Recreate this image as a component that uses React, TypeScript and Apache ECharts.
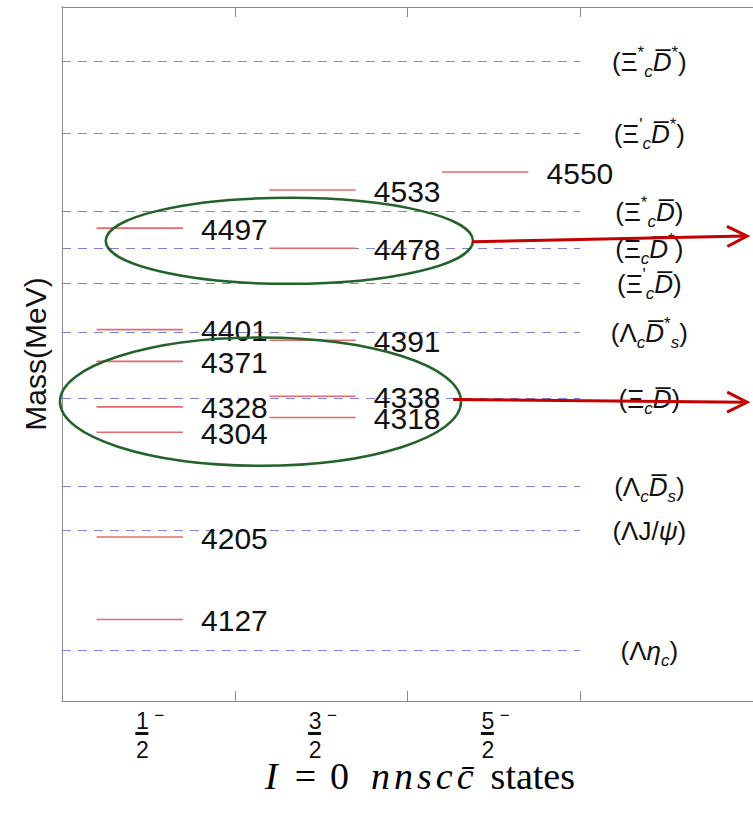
import React, { useEffect, useRef } from 'react';
import * as echarts from 'echarts';

// ---- data ----
const spinIndex = [0, 1, 2];
const spinNumerators = ['1', '3', '5'];
const spinDenominators = ['2', '2', '2'];

const statesJ12 = [4127, 4205, 4304, 4328, 4371, 4401, 4497];
const statesJ32 = [4318, 4338, 4391, 4478, 4533];
const statesJ52 = [4550];

const thresholdMasses = [4655, 4587, 4513, 4478, 4445, 4399, 4336, 4253, 4212, 4098];
const thresholdLabels = [
  '{n|(Ξ}{sup|*}{sub|c}{i|D\u0305}{sup|*}{n|)}',
  "{n|(Ξ}{sup|'}{sub|c}{i|D\u0305}{sup|*}{n|)}",
  '{n|(Ξ}{sup|*}{sub|c}{i|D\u0305}{n|)}',
  '{n|(Ξ}{sub|c}{i|D\u0305}{sup|*}{n|)}',
  "{n|(Ξ}{sup|'}{sub|c}{i|D\u0305}{n|)}",
  '{n|(Λ}{sub|c}{i|D\u0305}{sup|*}{sub|s}{n|)}',
  '{n|(Ξ}{sub|c}{i|D\u0305}{n|)}',
  '{n|(Λ}{sub|c}{i|D\u0305}{sub|s}{n|)}',
  '{n|(ΛJ/}{i|ψ}{n|)}',
  '{n|(Λ}{i|η}{sub|c}{n|)}',
];

const xAxisTitle = '{I|I}{eq|=}{z|0}{m|n}{m|n}{m|s}{m|c}{mc|c\u0304}{st|states}';

// annotations (data units: x, mass)
const ellipses = [
  [1.316, 4485, 1.063, 40.7],
  [1.149, 4333, 1.161, 60.6],
];
const arrows = [
  [2.374, 4484, 3.966, 4489.5],
  [2.264, 4335, 3.966, 4332.4],
];

const Y_MIN = 4050;
const Y_MAX = 4706;
const X_MIN = 0;
const X_MAX = 4;

const SANS = '"Liberation Sans", Arial, sans-serif';
const SERIF = '"Liberation Serif", "Times New Roman", serif';

const thresholdRich = {
  n: { fontSize: 26, fontFamily: SANS, color: '#111', lineHeight: 36, verticalAlign: 'middle' },
  i: { fontSize: 26, fontFamily: SANS, fontStyle: 'italic', color: '#111', lineHeight: 36, verticalAlign: 'middle' },
  sub: { fontSize: 17, fontFamily: SANS, fontStyle: 'italic', color: '#111', lineHeight: 18, verticalAlign: 'bottom' },
  sup: { fontSize: 17, fontFamily: SANS, color: '#111', lineHeight: 18, verticalAlign: 'top' },
};

const TITLE_FS = 38;
const titleRich = {
  I: { fontSize: TITLE_FS, fontFamily: SERIF, fontStyle: 'italic', color: '#111', padding: [0, 17, 0, 0] },
  eq: { fontSize: TITLE_FS, fontFamily: SERIF, color: '#111', padding: [0, 14, 0, 0] },
  z: { fontSize: TITLE_FS, fontFamily: SERIF, color: '#111', padding: [0, 20, 0, 0] },
  m: { fontSize: TITLE_FS, fontFamily: SERIF, fontStyle: 'italic', color: '#111', padding: [0, 2, 0, 2] },
  mc: { fontSize: TITLE_FS, fontFamily: SERIF, fontStyle: 'italic', color: '#111', padding: [0, 17, 0, 2] },
  st: { fontSize: TITLE_FS, fontFamily: SERIF, color: '#111' },
};

export default function App() {
  const ref = useRef<HTMLDivElement>(null);

  useEffect(() => {
    if (!ref.current) return;
    const chart = echarts.init(ref.current, null, { renderer: 'svg' });

    const statesData: number[][] = [];
    statesJ12.forEach((m) => statesData.push([0, m]));
    statesJ32.forEach((m) => statesData.push([1, m]));
    statesJ52.forEach((m) => statesData.push([2, m]));

    const axisLineStyle = { color: '#8a8a8a', width: 1 };

    const option: any = {
      animation: false,
      backgroundColor: '#fff',
      grid: { left: 62, top: 7, width: 696, height: 694, containLabel: false },
      xAxis: [
        {
          type: 'value', min: X_MIN, max: X_MAX, interval: 1, position: 'bottom',
          axisLine: { show: true, lineStyle: axisLineStyle },
          axisTick: { show: true, inside: true, length: 10, lineStyle: axisLineStyle },
          axisLabel: { show: false }, splitLine: { show: false },
        },
        {
          type: 'value', min: X_MIN, max: X_MAX, interval: 1, position: 'top',
          axisLine: { show: true, lineStyle: axisLineStyle },
          axisTick: { show: true, inside: true, length: 10, lineStyle: axisLineStyle },
          axisLabel: { show: false }, splitLine: { show: false },
        },
      ],
      yAxis: [
        {
          type: 'value', min: Y_MIN, max: Y_MAX, position: 'left',
          axisLine: { show: true, lineStyle: axisLineStyle },
          axisTick: { show: false }, axisLabel: { show: false }, splitLine: { show: false },
          name: 'Mass(MeV)', nameLocation: 'middle', nameRotate: 90, nameGap: 12,
          nameTextStyle: { fontSize: 30, fontFamily: SANS, color: '#111' },
        },
        {
          type: 'value', min: Y_MIN, max: Y_MAX, position: 'right',
          axisLine: { show: true, lineStyle: axisLineStyle },
          axisTick: { show: false }, axisLabel: { show: false }, splitLine: { show: false },
        },
      ],
      graphic: [
        {
          type: 'text', left: 265, top: 757,
          style: { text: xAxisTitle, rich: titleRich },
        },
      ],
      series: [
        {
          type: 'custom', name: 'thresholds', z: 2,
          data: thresholdMasses.map((m, i) => [3, m, i]),
          renderItem: (params: any, api: any) => {
            const m = api.value(1);
            const idx = api.value(2);
            const p0 = api.coord([0, m]);
            const p1 = api.coord([3, m]);
            const pl = api.coord([3.4, m]);
            return {
              type: 'group',
              children: [
                {
                  type: 'line',
                  shape: { x1: p0[0], y1: Math.round(p0[1]) + 0.5, x2: p1[0], y2: Math.round(p1[1]) + 0.5 },
                  style: { stroke: '#7f7fdc', lineWidth: 1.2, lineDash: [9, 7] },
                },
                {
                  type: 'text', x: pl[0], y: pl[1] + 1,
                  style: {
                    text: thresholdLabels[idx], rich: thresholdRich,
                    align: 'center', verticalAlign: 'middle', fill: '#111',
                    fontSize: 26, fontFamily: SANS,
                  },
                },
              ],
            };
          },
        },
        {
          type: 'custom', name: 'states', z: 3,
          data: statesData,
          renderItem: (params: any, api: any) => {
            const j = api.value(0);
            const m = api.value(1);
            const a = api.coord([j + 0.2, m]);
            const b = api.coord([j + 0.7, m]);
            const t = api.coord([j + 0.805, m]);
            return {
              type: 'group',
              children: [
                {
                  type: 'line',
                  shape: { x1: a[0], y1: a[1], x2: b[0], y2: b[1] },
                  style: { stroke: '#e46a6a', lineWidth: 1.6 },
                },
                {
                  type: 'text', x: t[0], y: t[1] + 1,
                  style: {
                    text: String(m), fill: '#111', fontSize: 30, fontFamily: SANS,
                    align: 'left', verticalAlign: 'middle',
                  },
                },
              ],
            };
          },
        },
        {
          type: 'custom', name: 'spinLabels', z: 3,
          data: spinIndex.map((j) => [j, Y_MIN]),
          renderItem: (params: any, api: any) => {
            const j = api.value(0);
            const p = api.coord([j + 0.465, Y_MIN]);
            const cx = p[0];
            const ay = p[1];
            const font = { fontSize: 23, fontFamily: SANS, fill: '#111' };
            return {
              type: 'group',
              children: [
                { type: 'text', x: cx, y: ay + 20, style: { ...font, text: spinNumerators[j], align: 'center', verticalAlign: 'middle' } },
                { type: 'text', x: cx + 12, y: ay + 14, style: { fontSize: 17, fontFamily: SANS, fill: '#111', text: '−', align: 'left', verticalAlign: 'middle' } },
                { type: 'rect', shape: { x: cx - 7, y: ay + 31, width: 13, height: 3 }, style: { fill: '#111' } },
                { type: 'text', x: cx, y: ay + 49, style: { ...font, text: spinDenominators[j], align: 'center', verticalAlign: 'middle' } },
              ],
            };
          },
        },
        {
          type: 'custom', name: 'ellipses', z: 4,
          data: ellipses,
          renderItem: (params: any, api: any) => {
            const cx = api.value(0), cy = api.value(1), rx = api.value(2), ry = api.value(3);
            const c = api.coord([cx, cy]);
            const px = api.coord([cx + rx, cy]);
            const py = api.coord([cx, cy + ry]);
            return {
              type: 'ellipse',
              shape: { cx: c[0], cy: c[1], rx: px[0] - c[0], ry: c[1] - py[1] },
              style: { fill: 'none', stroke: '#23632a', lineWidth: 2.5 },
            };
          },
        },
        {
          type: 'custom', name: 'arrows', z: 5,
          data: arrows,
          renderItem: (params: any, api: any) => {
            const a = api.coord([api.value(0), api.value(1)]);
            const b = api.coord([api.value(2), api.value(3)]);
            const dx = b[0] - a[0], dy = b[1] - a[1];
            const len = Math.sqrt(dx * dx + dy * dy);
            const ux = dx / len, uy = dy / len;
            const hl = 20, hw = 10;
            const h1 = [b[0] - ux * hl - uy * hw, b[1] - uy * hl + ux * hw];
            const h2 = [b[0] - ux * hl + uy * hw, b[1] - uy * hl - ux * hw];
            const st = { stroke: '#c40000', lineWidth: 3, fill: 'none' };
            return {
              type: 'group',
              children: [
                { type: 'line', shape: { x1: a[0], y1: a[1], x2: b[0] - ux * 1.5, y2: b[1] - uy * 1.5 }, style: st },
                { type: 'polyline', shape: { points: [h1, b, h2] }, style: st },
              ],
            };
          },
        },
      ],
    };

    chart.setOption(option);
    return () => chart.dispose();
  }, []);

  return (
    <div
      ref={ref}
      style={{ position: 'absolute', left: 0, top: 0, width: 753, height: 817, overflow: 'hidden' }}
    />
  );
}
